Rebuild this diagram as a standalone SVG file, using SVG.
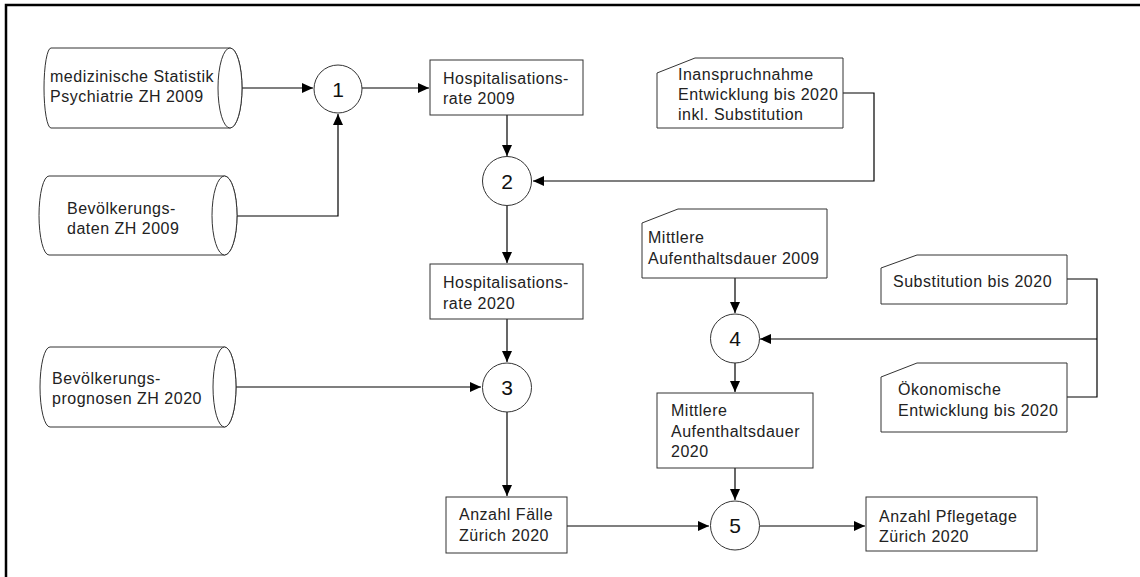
<svg xmlns="http://www.w3.org/2000/svg" width="1140" height="577" viewBox="0 0 1140 577">
<defs>
<marker id="ah" markerUnits="userSpaceOnUse" markerWidth="12" markerHeight="10" refX="11" refY="5" orient="auto">
<path d="M0,0 L11,5 L0,10 Z" fill="#000"/>
</marker>
<style>
.shape{fill:#fff;stroke:#333;stroke-width:1}
.conn{fill:none;stroke:#000;stroke-width:1.2}
.t{font-family:"Liberation Sans",Arial,sans-serif;font-size:16px;letter-spacing:0.5px;fill:#222}
.n{font-family:"Liberation Sans",Arial,sans-serif;font-size:21px;fill:#111;text-anchor:middle}
.frame{stroke:#000;stroke-width:2.5;fill:none}
</style>
</defs>
<rect width="1140" height="577" fill="#fff"/>
<path class="frame" d="M6,577 L6,5 L1140,5"/>

<g id="connectors">
<path class="conn" d="M242,88 L313,88" marker-end="url(#ah)"/>
<path class="conn" d="M237,216 L338,216 L338,114" marker-end="url(#ah)"/>
<path class="conn" d="M362,88 L429,88" marker-end="url(#ah)"/>
<path class="conn" d="M507,115 L507,156" marker-end="url(#ah)"/>
<path class="conn" d="M843,93 L874,93 L874,181 L533,181" marker-end="url(#ah)"/>
<path class="conn" d="M507,206 L507,263" marker-end="url(#ah)"/>
<path class="conn" d="M507,319 L507,362" marker-end="url(#ah)"/>
<path class="conn" d="M236,387 L481,387" marker-end="url(#ah)"/>
<path class="conn" d="M507,412 L507,496" marker-end="url(#ah)"/>
<path class="conn" d="M735,278 L735,313" marker-end="url(#ah)"/>
<path class="conn" d="M1067,279 L1097,279 L1097,397 L1067,397"/>
<path class="conn" d="M1097,339 L760,339" marker-end="url(#ah)"/>
<path class="conn" d="M735,363 L735,392" marker-end="url(#ah)"/>
<path class="conn" d="M735,468 L735,500" marker-end="url(#ah)"/>
<path class="conn" d="M567,526 L709,526" marker-end="url(#ah)"/>
<path class="conn" d="M760,526 L865,526" marker-end="url(#ah)"/>
</g>

<g id="cyl-medstat">
<path class="shape" d="M51,48 L230,48 A12,40 0 0 1 230,128 L51,128 A7,40 0 0 1 51,48 Z"/>
<ellipse class="shape" cx="230" cy="88" rx="12" ry="40"/>
<text class="t" x="50" y="82">medizinische Statistik</text>
<text class="t" x="50" y="102">Psychiatrie ZH 2009</text>
</g>

<g id="cyl-bev2009">
<path class="shape" d="M49,176 L224.5,176 A12.5,39.5 0 0 1 224.5,255 L49,255 A10,39.5 0 0 1 49,176 Z"/>
<ellipse class="shape" cx="224.5" cy="215.5" rx="12.5" ry="39.5"/>
<text class="t" x="67" y="214">Bevölkerungs-</text>
<text class="t" x="67" y="234">daten ZH 2009</text>
</g>

<g id="cyl-bev2020">
<path class="shape" d="M50,347 L224.5,347 A11.5,40 0 0 1 224.5,427 L50,427 A10,40 0 0 1 50,347 Z"/>
<ellipse class="shape" cx="224.5" cy="387" rx="11.5" ry="40"/>
<text class="t" x="52" y="384">Bevölkerungs-</text>
<text class="t" x="52" y="404">prognosen ZH 2020</text>
</g>

<g id="c1">
<circle class="shape" cx="338" cy="89" r="24"/>
<text class="n" x="338" y="97">1</text>
</g>

<g id="hosp2009">
<rect class="shape" x="430" y="60" width="153" height="55"/>
<text class="t" x="443" y="84">Hospitalisations-</text>
<text class="t" x="443" y="104">rate 2009</text>
</g>

<g id="inanspruch">
<path class="shape" d="M657,73 L695,58 L843,58 L843,128 L657,128 Z"/>
<text class="t" x="678" y="80">Inanspruchnahme</text>
<text class="t" x="678" y="100">Entwicklung bis 2020</text>
<text class="t" x="678" y="120">inkl. Substitution</text>
</g>

<g id="c2">
<circle class="shape" cx="507" cy="181" r="24.5"/>
<text class="n" x="507" y="189">2</text>
</g>

<g id="hosp2020">
<rect class="shape" x="430" y="264" width="153" height="55"/>
<text class="t" x="443" y="288">Hospitalisations-</text>
<text class="t" x="443" y="309">rate 2020</text>
</g>

<g id="c3">
<circle class="shape" cx="507" cy="387.5" r="24.5"/>
<text class="n" x="507" y="395">3</text>
</g>

<g id="mad2009">
<path class="shape" d="M642,223 L678,209 L827,209 L827,278 L642,278 Z"/>
<text class="t" x="648" y="243">Mittlere</text>
<text class="t" x="648" y="264">Aufenthaltsdauer 2009</text>
</g>

<g id="substitution">
<path class="shape" d="M881,268 L917,255 L1067,255 L1067,304 L881,304 Z"/>
<text class="t" x="893" y="287">Substitution bis 2020</text>
</g>

<g id="oekonomisch">
<path class="shape" d="M881,377 L917,363 L1067,363 L1067,432 L881,432 Z"/>
<text class="t" x="898" y="395">Ökonomische</text>
<text class="t" x="898" y="416">Entwicklung bis 2020</text>
</g>

<g id="c4">
<circle class="shape" cx="735" cy="338.5" r="24.5"/>
<text class="n" x="735" y="346">4</text>
</g>

<g id="mad2020">
<rect class="shape" x="657" y="393" width="156" height="75"/>
<text class="t" x="671" y="416">Mittlere</text>
<text class="t" x="671" y="437">Aufenthaltsdauer</text>
<text class="t" x="671" y="457">2020</text>
</g>

<g id="faelle">
<rect class="shape" x="446" y="497" width="121" height="56"/>
<text class="t" x="459" y="520">Anzahl Fälle</text>
<text class="t" x="459" y="541">Zürich 2020</text>
</g>

<g id="c5">
<circle class="shape" cx="735" cy="525.5" r="24.5"/>
<text class="n" x="735" y="533">5</text>
</g>

<g id="pflegetage">
<rect class="shape" x="866" y="497" width="171" height="54"/>
<text class="t" x="879" y="522">Anzahl Pflegetage</text>
<text class="t" x="879" y="542">Zürich 2020</text>
</g>
</svg>
